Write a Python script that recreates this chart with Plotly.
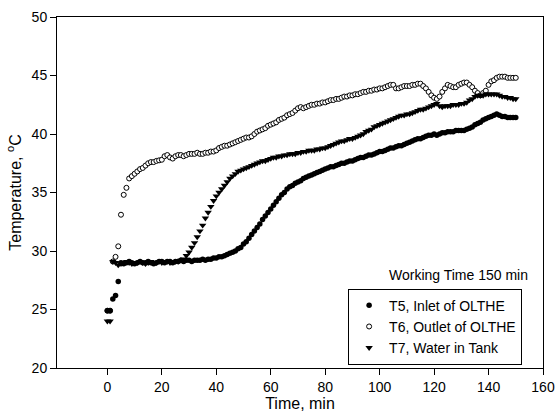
import plotly.graph_objects as go

# Working time, min (1-min sampling)
time_min = list(range(0, 151))

# T5, Inlet of OLTHE
t5_inlet = [
    24.9, 24.9, 25.9, 26.2, 27.4, 29.0, 28.9, 29.0, 29.1, 29.0,
    28.9, 29.0, 29.1, 29.0, 29.0, 29.1, 29.0, 28.9, 29.0, 29.1,
    29.1, 29.0, 29.1, 29.1, 29.0, 29.1, 29.1, 29.2, 29.1, 29.2,
    29.2, 29.1, 29.2, 29.2, 29.2, 29.3, 29.2, 29.3, 29.3, 29.4,
    29.4, 29.5, 29.5, 29.6, 29.7, 29.8, 29.9, 30.0, 30.2, 30.3,
    30.6, 30.8, 31.1, 31.4, 31.7, 32.0, 32.3, 32.7, 33.0, 33.3,
    33.6, 33.9, 34.2, 34.5, 34.8, 35.0, 35.3, 35.5, 35.6, 35.8,
    35.9, 36.0, 36.2, 36.3, 36.4, 36.5, 36.6, 36.7, 36.8, 36.9,
    37.0, 37.1, 37.2, 37.2, 37.3, 37.4, 37.5, 37.5, 37.6, 37.7,
    37.7, 37.8, 37.9, 38.0, 38.0, 38.1, 38.2, 38.2, 38.3, 38.4,
    38.5, 38.5, 38.6, 38.7, 38.8, 38.8, 38.9, 39.0, 39.0, 39.1,
    39.2, 39.3, 39.4, 39.5, 39.6, 39.6, 39.7, 39.8, 39.9, 39.9,
    40.0, 39.9, 40.0, 40.1, 40.1, 40.2, 40.2, 40.2, 40.3, 40.3,
    40.3, 40.3, 40.4, 40.5, 40.6, 40.8, 40.9, 41.0, 41.2, 41.3,
    41.4, 41.5, 41.6, 41.7, 41.6, 41.5, 41.5, 41.4, 41.4, 41.4,
    41.4,
]

# T6, Outlet of OLTHE
t6_outlet = [
    24.9, 24.9, 29.1, 29.5, 30.4, 33.1, 34.8, 35.4, 36.2, 36.4,
    36.6, 36.8, 37.0, 37.1, 37.3, 37.5, 37.6, 37.6, 37.7, 37.75,
    37.8, 38.1, 38.2, 38.0, 37.9, 38.1, 38.2, 38.2, 38.1, 38.2,
    38.3, 38.3, 38.3, 38.4, 38.3, 38.3, 38.4, 38.4, 38.5, 38.5,
    38.6, 38.8, 38.9, 39.0, 39.0, 39.1, 39.2, 39.3, 39.4, 39.5,
    39.6, 39.7, 39.7, 39.8, 40.0, 40.2, 40.3, 40.4, 40.5, 40.7,
    40.8, 40.9, 41.0, 41.2, 41.3, 41.4, 41.6, 41.7, 41.8, 42.0,
    42.2, 42.3, 42.2, 42.3, 42.4, 42.5, 42.5, 42.6, 42.6, 42.7,
    42.7, 42.8, 42.9, 42.9, 43.0, 43.0, 43.1, 43.2, 43.2, 43.3,
    43.3, 43.4, 43.4, 43.5, 43.6, 43.6, 43.7, 43.7, 43.8, 43.8,
    43.9, 43.9, 44.0, 44.1, 44.2, 44.2, 43.9, 43.9, 44.0, 44.1,
    44.1, 44.1, 44.2, 44.2, 44.3, 44.3, 44.1, 43.9, 43.6, 43.3,
    43.1, 43.0, 43.2, 43.6, 43.9, 44.2, 44.1, 44.0, 44.0, 44.2,
    44.3, 44.4, 44.4, 44.2, 44.0, 43.7, 43.5, 43.3, 43.5, 43.7,
    44.2, 44.5, 44.6, 44.8, 44.9, 44.9, 44.9, 44.8, 44.8, 44.8,
    44.8,
]

# T7, Water in Tank
t7_tank = [
    24.0, 24.0, 29.1, 29.0, 28.8, 28.9, 29.0, 29.1, 29.0, 28.9,
    29.0, 29.0, 29.1, 29.0, 28.9, 29.0, 29.1, 29.0, 29.0, 29.1,
    29.0, 29.1, 29.1, 29.0, 29.1, 29.1, 29.1, 29.2, 29.3, 29.6,
    29.9, 30.3, 30.7, 31.2, 31.7, 32.2, 32.8, 33.3, 33.8, 34.3,
    34.7, 35.0, 35.3, 35.6, 35.9, 36.2, 36.4, 36.6, 36.8, 36.9,
    37.0, 37.1, 37.2, 37.3, 37.4, 37.5, 37.6, 37.7, 37.7, 37.8,
    37.9, 38.0, 38.0, 38.1, 38.1, 38.2, 38.2, 38.3, 38.3, 38.3,
    38.4, 38.4, 38.5, 38.5, 38.6, 38.6, 38.6, 38.7, 38.7, 38.8,
    38.8, 38.9, 39.0, 39.1, 39.2, 39.3, 39.4, 39.4, 39.5, 39.6,
    39.6, 39.7, 39.8, 39.9, 40.0, 40.2, 40.3, 40.4, 40.6, 40.7,
    40.8, 40.9, 41.0, 41.1, 41.2, 41.3, 41.4, 41.5, 41.6, 41.6,
    41.7, 41.7, 41.8, 41.9, 42.0, 42.1, 42.1, 42.2, 42.3, 42.4,
    42.5, 42.6, 42.4, 42.3, 42.4, 42.4, 42.4, 42.5, 42.5, 42.5,
    42.6, 42.6, 42.7, 42.9, 43.0, 43.2, 43.3, 43.3, 43.3, 43.4,
    43.4, 43.4, 43.4, 43.4, 43.3, 43.2, 43.2, 43.1, 43.1, 43.0,
    43.0,
]

series_names = ["T5, Inlet of OLTHE", "T6, Outlet of OLTHE", "T7, Water in Tank"]
x_ticks = [0, 20, 40, 60, 80, 100, 120, 140, 160]
y_ticks = [20, 25, 30, 35, 40, 45, 50]
note_text = "Working Time 150 min"

FONT = "Arial, 'Liberation Sans', Helvetica, sans-serif"

fig = go.Figure()

# Outlet drawn first so the later traces sit on top of it
fig.add_trace(go.Scatter(
    x=time_min, y=t6_outlet, mode="markers", name=series_names[1], legendrank=2,
    marker=dict(symbol="circle", size=5, color="white",
                line=dict(color="black", width=1)),
))
fig.add_trace(go.Scatter(
    x=time_min, y=t5_inlet, mode="markers", name=series_names[0], legendrank=1,
    marker=dict(symbol="circle", size=5.5, color="black",
                line=dict(color="black", width=0)),
))
fig.add_trace(go.Scatter(
    x=time_min, y=t7_tank, mode="markers", name=series_names[2], legendrank=3,
    marker=dict(symbol="triangle-down", size=6.5, color="black",
                line=dict(color="black", width=0)),
))

axis_common = dict(
    showline=True, linecolor="black", linewidth=1, mirror=True,
    ticks="outside", ticklen=6, tickwidth=1, tickcolor="black",
    showgrid=False, zeroline=False,
    tickfont=dict(family=FONT, size=14, color="black"),
)

fig.update_xaxes(
    range=[-18.5, 160], tickvals=x_ticks,
    title=dict(text="Time, min", font=dict(family=FONT, size=16, color="black"), standoff=3),
    **axis_common,
)
fig.update_yaxes(
    range=[20, 50], tickvals=y_ticks,
    title=dict(text="Temperature, <sup>o</sup>C", font=dict(family=FONT, size=16, color="black"), standoff=6),
    **axis_common,
)

fig.add_annotation(
    text=note_text, xref="paper", yref="paper", x=0.973, y=0.264,
    xanchor="right", yanchor="middle", showarrow=False,
    font=dict(family=FONT, size=14, color="black"),
)

fig.update_layout(
    width=555, height=414,
    margin=dict(l=57, r=12, t=17, b=46, autoexpand=False),
    paper_bgcolor="white", plot_bgcolor="white",
    font=dict(family=FONT, size=14, color="black"),
    showlegend=True,
    legend=dict(
        x=0.599, y=0.226, xanchor="left", yanchor="top",
        bordercolor="black", borderwidth=1, bgcolor="white",
        font=dict(family=FONT, size=14, color="black"),
        itemsizing="trace", tracegroupgap=0,
    ),
)

fig.write_html("out.html")
